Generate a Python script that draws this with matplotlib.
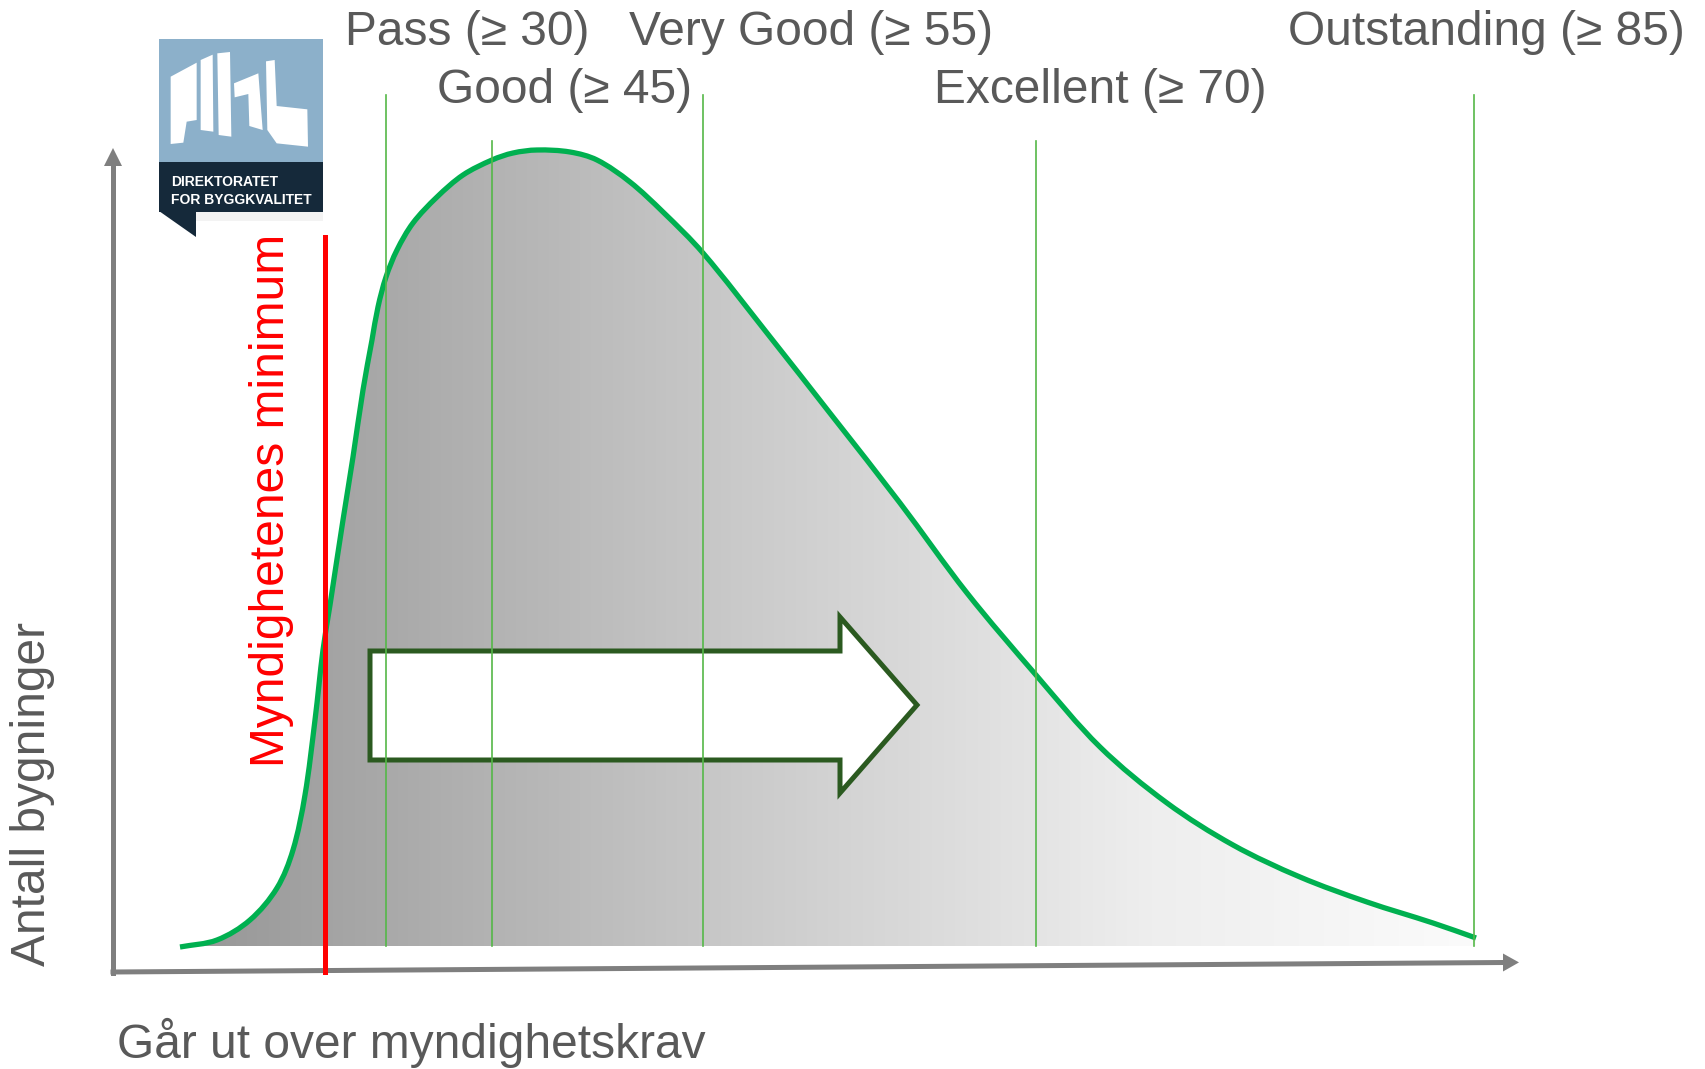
import numpy as np
import matplotlib
matplotlib.use("Agg")
import matplotlib.pyplot as plt
from matplotlib.path import Path
from matplotlib.patches import PathPatch, Polygon, Rectangle
from matplotlib.colors import LinearSegmentedColormap

# ---------------- data (diagram units = pixels of the reference) ----------------
curve_x = [180, 217, 250, 277, 293, 305, 315, 323, 330, 343, 353, 363, 372, 378, 386, 397,
           413, 437, 463, 492, 513, 537, 570, 597, 630, 663, 703, 767, 833, 900, 967,
           1036, 1100, 1167, 1233, 1300, 1367, 1433, 1476]
curve_y = [947, 940, 920, 888, 850, 795, 720, 650, 605, 520, 457, 390, 340, 307, 277, 250,
           223, 197, 175, 160, 153, 150, 152, 160, 182, 212, 253, 333, 417, 503, 593,
           675, 747, 803, 845, 877, 902, 923, 938]
baseline_y = 946

rating_labels = ["Pass (≥ 30)", "Good (≥ 45)", "Very Good (≥ 55)", "Excellent (≥ 70)", "Outstanding (≥ 85)"]
rating_pos = [386, 492, 703, 1036, 1474]
rating_line_top = [95, 141, 95, 141, 95]
rating_label_x = [467, 565, 811, 1100, 1486]
rating_label_y = [45, 103, 45, 103, 45]

minimum_pos = 325
minimum_label = "Myndighetenes minimum"
ylabel = "Antall bygninger"
xlabel = "Går ut over myndighetskrav"

arrow_x = [370, 840, 840, 917, 840, 840, 370]
arrow_y = [651, 651, 617, 705, 793, 760, 760]

# ---------------- figure ----------------
W, H = 1706, 1069
fig = plt.figure(figsize=(W / 100, H / 100), dpi=100)
ax = fig.add_axes([0, 0, 1, 1])
ax.set_xlim(0, W)
ax.set_ylim(H, 0)
ax.axis("off")

FAM = ["Liberation Sans", "DejaVu Sans"]
TXT = "#595959"
FS = 34.5


def smooth_path(xs, ys):
    """Bezier path through the points (chord-length Catmull-Rom tangents)."""
    pts = np.column_stack([xs, ys]).astype(float)
    n = len(pts)
    seg = np.hypot(*np.diff(pts, axis=0).T)
    t = np.concatenate([[0], np.cumsum(seg)])
    m = np.zeros_like(pts)
    m[0] = (pts[1] - pts[0]) / (t[1] - t[0])
    m[-1] = (pts[-1] - pts[-2]) / (t[-1] - t[-2])
    for i in range(1, n - 1):
        m[i] = (pts[i + 1] - pts[i - 1]) / (t[i + 1] - t[i - 1])
    verts = [pts[0]]
    codes = [Path.MOVETO]
    for i in range(n - 1):
        h = t[i + 1] - t[i]
        verts += [pts[i] + m[i] * h / 3.0, pts[i + 1] - m[i + 1] * h / 3.0, pts[i + 1]]
        codes += [Path.CURVE4] * 3
    return verts, codes


cv, cc = smooth_path(curve_x, curve_y)

# filled area with horizontal gradient
fill_verts = list(cv) + [(curve_x[-1], baseline_y), (curve_x[0], baseline_y), cv[0]]
fill_codes = list(cc) + [Path.LINETO, Path.LINETO, Path.CLOSEPOLY]
fill_patch = PathPatch(Path(fill_verts, fill_codes), facecolor="none", edgecolor="none")
ax.add_patch(fill_patch)
cmap = LinearSegmentedColormap.from_list("g", ["#969696", "#b4b4b4", "#d2d2d2", "#eeeeee", "#fbfbfb"])
grad = np.linspace(0, 1, 512).reshape(1, -1)
im = ax.imshow(grad, cmap=cmap, extent=[curve_x[0], curve_x[-1], baseline_y, min(curve_y) - 5],
               aspect="auto", zorder=1, interpolation="bicubic")
im.set_clip_path(fill_patch)

# arrow
ax.add_patch(Polygon(np.column_stack([arrow_x, arrow_y]), closed=True, facecolor="white",
                     edgecolor="#2b5a20", linewidth=3.6, joinstyle="miter", zorder=2))

# curve
ax.add_patch(PathPatch(Path(cv, cc), facecolor="none", edgecolor="#00b050", linewidth=3.8,
                       capstyle="butt", zorder=3))

# rating lines
for xp, top in zip(rating_pos, rating_line_top):
    ax.plot([xp, xp], [top, baseline_y], color="#55b848", linewidth=1.2, zorder=4)

# axes (grey arrows)
AX = "#7f7f7f"
ax.plot([113, 113], [973, 163], color=AX, linewidth=3.6, solid_capstyle="projecting", zorder=5)
ax.add_patch(Polygon([(104, 166), (122, 166), (113, 148)], closed=True, facecolor=AX, edgecolor="none", zorder=5))
ax.plot([113, 1504], [972, 962.5], color=AX, linewidth=3.6, solid_capstyle="projecting", zorder=5)
ax.add_patch(Polygon([(1503, 953.5), (1503, 971.5), (1519, 962.4)], closed=True, facecolor=AX, edgecolor="none", zorder=5))

# minimum line
ax.plot([minimum_pos, minimum_pos], [237, 972], color="#ff0000", linewidth=3.6, zorder=6)
ax.text(272, 500, minimum_label, rotation=90, color="#ff0000", fontsize=FS, family=FAM,
        ha="center", va="center", zorder=7)

# rating labels
for lab, lx, ly in zip(rating_labels, rating_label_x, rating_label_y):
    ax.text(lx, ly, lab, color=TXT, fontsize=FS, family=FAM, ha="center", va="baseline")

# axis labels
ax.text(33, 794, ylabel, rotation=90, color=TXT, fontsize=FS, family=FAM, ha="center", va="center")
ax.text(117, 1058, xlabel, color=TXT, fontsize=FS, family=FAM, ha="left", va="baseline")

# ---------------- logo ----------------
def lz(pts):
    return [(150 + x / 3.0, 20 + y / 3.0) for x, y in pts]

ax.add_patch(Rectangle((196, 212), 127, 9, facecolor="#f3f3f3", edgecolor="none", zorder=8))
ax.add_patch(Rectangle((159, 39), 164, 124, facecolor="#8cb0ca", edgecolor="none", zorder=9))
ax.add_patch(Rectangle((159, 162), 164, 50, facecolor="#15293a", edgecolor="none", zorder=9))
ax.add_patch(Polygon([(159, 211), (196, 211), (196, 237)], closed=True, facecolor="#15293a",
                     edgecolor="none", zorder=9))
shapes = [
    [(62, 170), (140, 128), (140, 300), (110, 305), (100, 368), (62, 372)],
    [(152, 120), (188, 104), (190, 335), (152, 330)],
    [(202, 100), (240, 96), (244, 350), (206, 345)],
    [(252, 190), (325, 160), (338, 330), (298, 318), (295, 222), (254, 232)],
    [(348, 124), (374, 120), (380, 258), (472, 268), (474, 380), (380, 370), (352, 330)],
]
for s in shapes:
    ax.add_patch(Polygon(lz(s), closed=True, facecolor="white", edgecolor="none", zorder=10))
ax.text(171, 186, "DIREKTORATET", color="white", fontsize=10, fontweight="bold",
        family=FAM, ha="left", va="baseline", zorder=10)
ax.text(171, 204, "FOR BYGGKVALITET", color="white", fontsize=10, fontweight="bold",
        family=FAM, ha="left", va="baseline", zorder=10)

fig.savefig("out.png", dpi=100)
